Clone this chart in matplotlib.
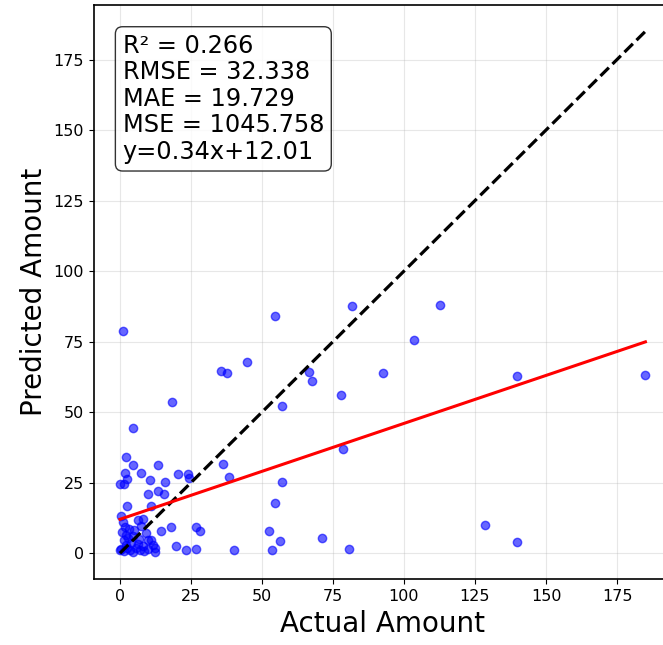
import numpy as np
import matplotlib
matplotlib.use("Agg")
import matplotlib.pyplot as plt

# valores (actual vs predicho)
actual = [
    0.2, 6.2, 8.0, 1.8, 3.3, 5.0, 0.6, 9.0, 1.5, 6.8, 9.7, 11.1,
    0.5, 1.5, 2.5, 3.5, 4.5, 5.5, 7.0, 8.5, 10.0, 12.3, 12.3, 2.0,
    4.0, 6.4, 3.0, 8.0, 1.0, 2.0, 4.5, 7.5, 11.5, 0.0,
    14.4, 17.8, 26.6, 28.2, 19.7, 23.2, 26.6,
    2.6, 11.1, 10.0, 13.5, 15.5,
    0.0, 1.4, 2.6, 10.6, 15.8, 20.5, 23.8, 24.4,
    1.8, 7.4, 4.7, 13.4, 2.3, 4.7, 18.3, 1.2,
    36.2, 38.4, 56.9, 54.7, 52.3, 56.3, 71.0, 40.0, 53.4, 80.6,
    54.6, 81.8, 112.7, 44.7, 35.6, 37.8, 103.4, 66.5, 67.6, 92.7,
    77.7, 56.9, 78.6,
    139.7, 185.0, 128.6, 139.9,
]
predicted = [
    13.1, 11.9, 12.2, 9.3, 8.7, 8.1, 7.5, 7.3, 4.8, 4.9, 4.8, 4.6,
    1.5, 0.8, 2.0, 1.0, 0.5, 1.8, 1.2, 0.8, 1.5, 1.8, 0.5, 3.0,
    3.5, 3.4, 5.5, 2.5, 11.0, 6.5, 6.0, 9.5, 2.8, 1.2,
    8.0, 9.2, 9.2, 7.7, 2.4, 1.3, 1.5,
    16.9, 16.9, 21.0, 22.1, 20.9,
    24.5, 24.4, 26.2, 25.8, 25.1, 27.9, 27.9, 26.7,
    28.3, 28.5, 31.2, 31.4, 34.2, 44.5, 53.6, 78.9,
    31.7, 27.0, 25.2, 17.7, 8.0, 4.2, 5.4, 1.0, 1.0, 1.4,
    84.2, 87.6, 88.1, 67.6, 64.7, 63.7, 75.5, 64.1, 61.2, 63.8,
    56.0, 52.1, 36.9,
    62.8, 63.1, 10.0, 3.9,
]

# metricas mostradas en la caja
r2 = 0.266
rmse = 32.338
mae = 19.729
mse = 1045.758
pendiente = 0.34
intercepto = 12.01

actual = np.array(actual)
predicted = np.array(predicted)

fig = plt.figure(figsize=(6.63, 6.45), dpi=100)
ax = fig.add_axes([0.1413, 0.1019, 0.8718, 0.890])

ax.scatter(actual, predicted, color='blue', alpha=0.6, s=36, zorder=3)

lim_min = min(actual.min(), predicted.min())
lim_max = max(actual.max(), predicted.max())
ax.plot([lim_min, lim_max], [lim_min, lim_max], 'k--', lw=2.3, zorder=4)

xs = np.array([actual.min(), actual.max()])
ax.plot(xs, pendiente * xs + intercepto, color='red', lw=2.2, zorder=4)

texto = (f"R² = {r2:.3f}\nRMSE = {rmse:.3f}\nMAE = {mae:.3f}\n"
         f"MSE = {mse:.3f}\ny={pendiente:.2f}x+{intercepto:.2f}")
ax.text(0.05, 0.95, texto, transform=ax.transAxes, fontsize=17.3,
        va='top', ha='left', linespacing=1.13,
        bbox=dict(boxstyle='round', facecolor='white', edgecolor='black', alpha=0.8))

ax.set_xlabel('Actual Amount', fontsize=20)
ax.set_ylabel('Predicted Amount', fontsize=20)
ax.tick_params(labelsize=11.5)
ax.grid(True, alpha=0.3)
for sp in ax.spines.values():
    sp.set_linewidth(1.2)

plt.savefig('out.png', dpi=100)
